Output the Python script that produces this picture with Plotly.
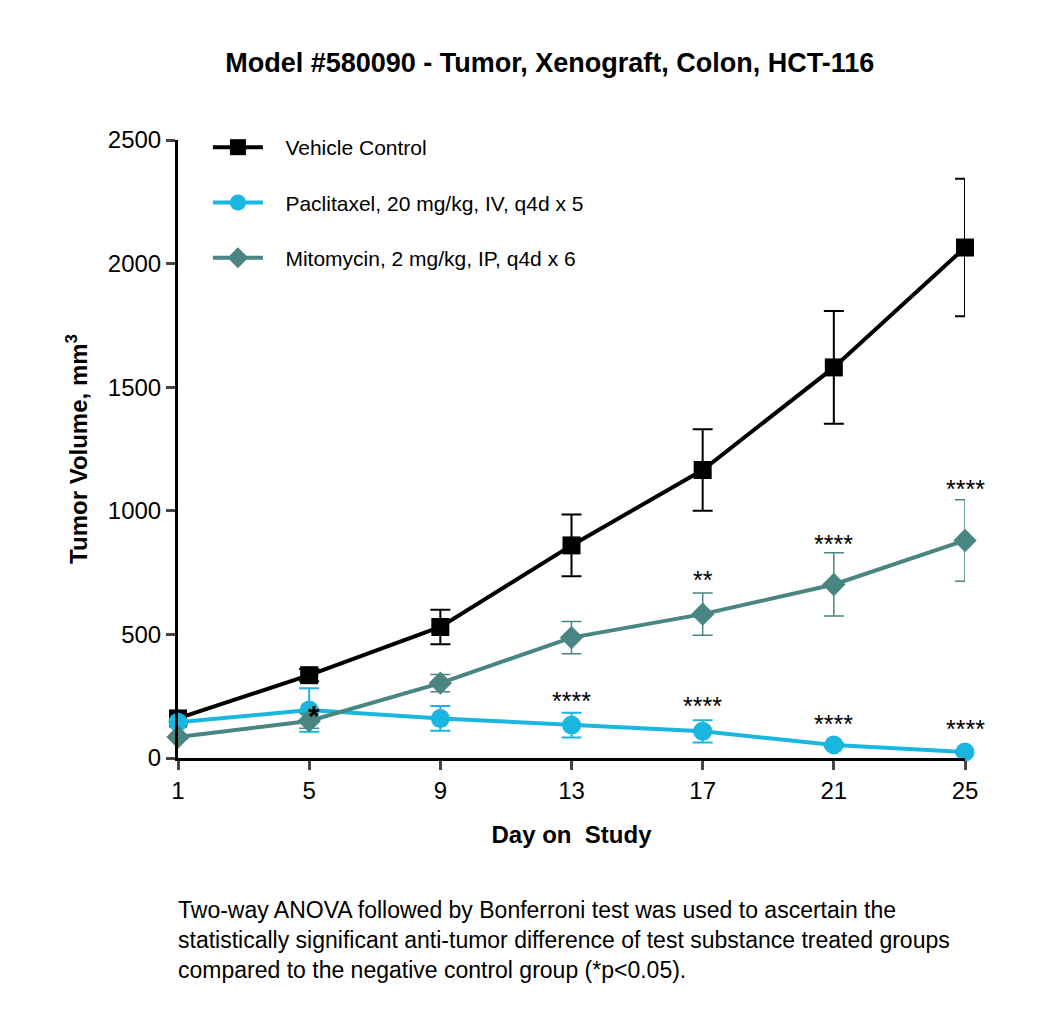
import plotly.graph_objects as go

days = [1, 5, 9, 13, 17, 21, 25]

vehicle = [160, 335, 530, 860, 1165, 1580, 2065]
vehicle_err = [15, 25, 70, 125, 165, 228, 278]

paclitaxel = [145, 194, 160, 133, 108, 53, 24]
paclitaxel_err = [10, 88, 50, 50, 45, 8, 6]

mitomycin = [85, 150, 303, 487, 582, 702, 880]
mitomycin_err = [8, 30, 35, 65, 85, 128, 165]

names = ["Vehicle Control", "Paclitaxel, 20 mg/kg, IV, q4d x 5", "Mitomycin, 2 mg/kg, IP, q4d x 6"]

# significance marks: (day, y, text)
pac_stars = [(13, 167, "****"), (17, 147, "****"), (21, 71, "****"), (25, 53, "****")]
mito_stars = [(17, 655, "**"), (21, 803, "****"), (25, 1022, "****")]

BLACK = "#000000"
CYAN = "#1ab6e0"
TEAL = "#498583"

fig = go.Figure()

fig.add_trace(go.Scatter(
    x=days, y=vehicle, name="\u00a0\u00a0\u00a0" + names[0], mode="lines+markers",
    line=dict(color=BLACK, width=4),
    marker=dict(symbol="square", size=18, color=BLACK),
    error_y=dict(type="data", array=vehicle_err, color=BLACK, thickness=2, width=10),
    cliponaxis=False, legendgroup="a",
))
fig.add_trace(go.Scatter(
    x=days, y=paclitaxel, name="\u00a0\u00a0\u00a0" + names[1], mode="lines+markers",
    line=dict(color=CYAN, width=4),
    marker=dict(symbol="circle", size=19, color=CYAN),
    error_y=dict(type="data", array=paclitaxel_err, color=CYAN, thickness=2, width=10),
    cliponaxis=False, legendgroup="b",
))
fig.add_trace(go.Scatter(
    x=days, y=mitomycin, name="\u00a0\u00a0\u00a0" + names[2], mode="lines+markers",
    line=dict(color=TEAL, width=4),
    marker=dict(symbol="diamond", size=18, color=TEAL),
    error_y=dict(type="data", array=mitomycin_err, color=TEAL, thickness=1.5, width=10),
    cliponaxis=False, legendgroup="c",
))

for d, y, t in pac_stars + mito_stars:
    fig.add_annotation(x=d, y=y, text=t, showarrow=False, yanchor="bottom",
                       font=dict(size=25, color=BLACK))

# single star at day 5 paclitaxel
fig.add_annotation(x=5.15, y=194, text="<b>*</b>", showarrow=False,
                   font=dict(size=30, color=BLACK), yshift=-5)

fig.add_annotation(
    x=0, y=0, xref="paper", yref="paper", xanchor="left", yanchor="top",
    xshift=-2, yshift=-137, align="left", showarrow=False,
    text="Two-way ANOVA followed by Bonferroni test was used to ascertain the<br>"
         "statistically significant anti-tumor difference of test substance treated groups<br>"
         "compared to the negative control group (*p<0.05).",
    font=dict(size=23, color=BLACK),
)

fig.update_layout(
    width=1050, height=1010,
    margin=dict(l=170, r=93, t=132, b=260),
    paper_bgcolor="white", plot_bgcolor="white",
    font=dict(family="Liberation Sans, Arial, sans-serif", color=BLACK),
    title=dict(text="<b>Model #580090 - Tumor, Xenograft, Colon, HCT-116</b>",
               x=0.516, xanchor="center", y=0.9455, yanchor="middle",
               font=dict(size=27)),
    showlegend=True,
    legend=dict(x=0.038, y=1.021, xanchor="left", yanchor="top",
                font=dict(size=21), tracegroupgap=25, bgcolor="rgba(0,0,0,0)",
                itemwidth=50),
    xaxis=dict(
        range=[1, 25], tickvals=days, ticks="outside", ticklen=9, tickwidth=3,
        showline=True, linewidth=3, linecolor=BLACK, showgrid=False, zeroline=False,
        tickfont=dict(size=24),
        title=dict(text="<b>Day on  Study</b>", font=dict(size=24), standoff=24),
    ),
    yaxis=dict(
        range=[0, 2500], tickvals=[0, 500, 1000, 1500, 2000, 2500], ticks="outside",
        ticklen=9, tickwidth=3, showline=True, linewidth=3, linecolor=BLACK,
        showgrid=False, zeroline=False, tickfont=dict(size=24),
        title=dict(text="<b>Tumor Volume, mm<sup>3</sup></b>", font=dict(size=24), standoff=14),
    ),
)

fig.write_html("out.html")
